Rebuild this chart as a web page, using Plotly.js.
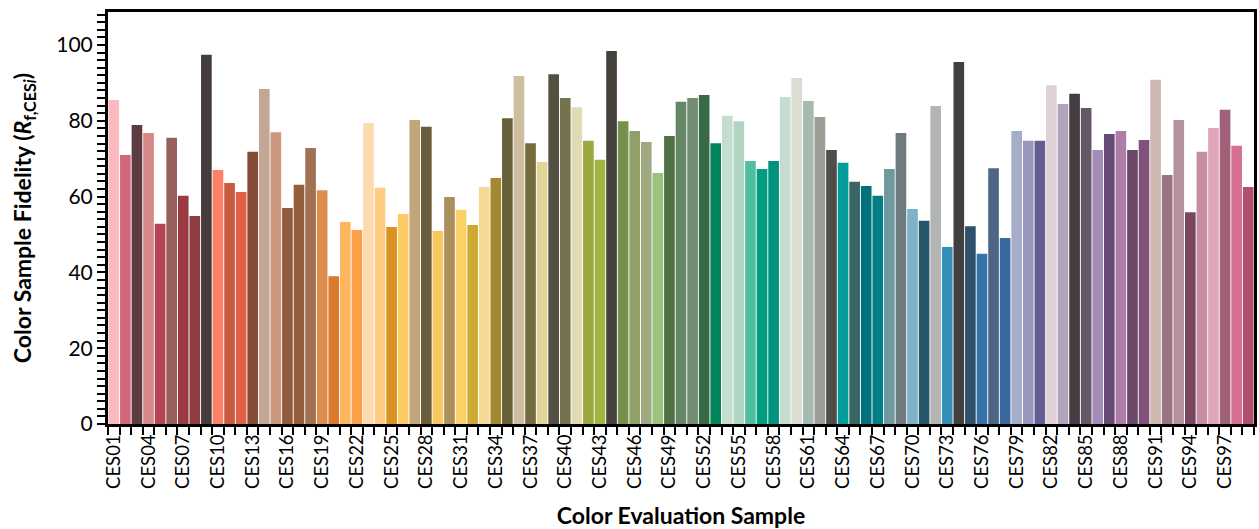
<!DOCTYPE html>
<html>
<head>
<meta charset="utf-8">
<script src="https://cdn.plot.ly/plotly-3.0.1.min.js"></script>
<style>html,body{margin:0;padding:0;background:#fff;}#chart{width:1259px;height:529px;}</style>
</head>
<body>
<div id="chart"></div>
<script>
var categories = ["CES01","CES02","CES03","CES04","CES05","CES06","CES07","CES08","CES09","CES10",
"CES11","CES12","CES13","CES14","CES15","CES16","CES17","CES18","CES19","CES20",
"CES21","CES22","CES23","CES24","CES25","CES26","CES27","CES28","CES29","CES30",
"CES31","CES32","CES33","CES34","CES35","CES36","CES37","CES38","CES39","CES40",
"CES41","CES42","CES43","CES44","CES45","CES46","CES47","CES48","CES49","CES50",
"CES51","CES52","CES53","CES54","CES55","CES56","CES57","CES58","CES59","CES60",
"CES61","CES62","CES63","CES64","CES65","CES66","CES67","CES68","CES69","CES70",
"CES71","CES72","CES73","CES74","CES75","CES76","CES77","CES78","CES79","CES80",
"CES81","CES82","CES83","CES84","CES85","CES86","CES87","CES88","CES89","CES90",
"CES91","CES92","CES93","CES94","CES95","CES96","CES97","CES98","CES99"];

var fidelity = [85.5,71.0,78.9,76.8,52.8,75.5,60.2,54.9,97.4,67.0,
63.6,61.2,71.8,88.4,77.0,57.0,63.1,72.8,61.7,39.0,
53.3,51.2,79.4,62.3,52.0,55.4,80.2,78.4,50.9,59.9,
56.5,52.5,62.5,64.9,80.7,91.8,74.1,69.1,92.3,86.0,
83.6,74.7,69.7,98.4,79.9,77.3,74.4,66.2,76.0,85.0,
86.0,86.8,74.1,81.3,79.9,69.4,67.3,69.4,86.3,91.3,
85.2,81.0,72.3,68.9,63.9,62.8,60.2,67.3,76.8,56.7,
53.6,83.9,46.7,95.5,52.2,44.9,67.5,49.1,77.3,74.7,
74.7,89.4,84.4,87.1,83.4,72.3,76.5,77.3,72.3,74.9,
90.8,65.7,80.2,55.9,71.8,78.1,82.9,73.4,62.5];

var barColors = ["#FBBABF","#D3667A","#5C3C40","#D68888","#B54554","#97605A","#9A3A42","#913D44","#443D3B","#FE8068",
"#CA5B40","#E26146","#874C37","#C4A697","#CC977F","#8F5A3D","#955E3C","#A07152","#DE8D4F","#DB7A2B",
"#FDB55F","#FCA04A","#FDDAB0","#FDCC83","#DA9222","#FDCA66","#C2A679","#6C5D3A","#F8C760","#AB8F5D",
"#FAD164","#CEAA35","#F5D894","#A38A30","#686039","#CFBD9F","#756D3F","#E3D59A","#525040","#75734F",
"#E2D9B5","#99A93C","#A0B640","#45413C","#76914C","#90A068","#A0A980","#9DC27E","#507045","#658766",
"#728D72","#386A47","#02855A","#C4DDCE","#B1D5C3","#50BFA0","#009D81","#00927C","#C3DDCF","#DCDCD1",
"#A5BBB2","#9A9C95","#4F4D4A","#009D9A","#386664","#02727A","#007F87","#6E9A9F","#6F7B7F","#7DB2CA",
"#27566B","#B3B5B4","#358EB8","#42403F","#2E506B","#3673AB","#4E6686","#3A67A0","#A5ADC8","#9798BC",
"#635D93","#DDD0D6","#B3A3BD","#433D41","#645766","#A48BB8","#664B75","#AF7EA8","#6B4868","#7F517B",
"#CEB8B1","#9A7484","#B5909D","#7B4660","#C78EA1","#E0A5B5","#A06079","#D67090","#B24E6E"];

var tickLabels = ["CES01","","","CES04","","","CES07","","","CES10","","","CES13","","","CES16","","","CES19","","",
"CES22","","","CES25","","","CES28","","","CES31","","","CES34","","","CES37","","","CES40","","",
"CES43","","","CES46","","","CES49","","","CES52","","","CES55","","","CES58","","","CES61","","",
"CES64","","","CES67","","","CES70","","","CES73","","","CES76","","","CES79","","","CES82","","",
"CES85","","","CES88","","","CES91","","","CES94","","","CES97","",""];

var yTickVals = [0,20,40,60,80,100];

var trace = {
  type: 'bar',
  x: categories,
  y: fidelity,
  marker: {color: barColors, line: {width: 0}},
  hoverinfo: 'x+y'
};

var layout = {
  width: 1259,
  height: 529,
  margin: {l: 108, r: 5, t: 12, b: 105},
  paper_bgcolor: '#ffffff',
  plot_bgcolor: '#ffffff',
  bargap: 0.08,
  showlegend: false,
  font: {family: 'Lato, "Open Sans", sans-serif', color: '#000'},
  xaxis: {
    type: 'category',
    tickvals: categories,
    ticktext: tickLabels,
    tickangle: -90,
    tickson: 'boundaries',
    ticks: 'outside',
    ticklen: 8,
    tickwidth: 2,
    tickcolor: '#000',
    tickfont: {size: 18.5, color: '#000'},
    showline: true,
    linecolor: '#000',
    linewidth: 3,
    mirror: true,
    showgrid: false,
    zeroline: false,
    title: {text: '<b>Color Evaluation Sample</b>', font: {size: 23, color: '#000'}, standoff: 24}
  },
  yaxis: {
    range: [0, 108.7],
    tickvals: yTickVals,
    ticks: 'outside',
    ticklen: 8,
    tickwidth: 2,
    tickcolor: '#000',
    tickfont: {size: 21, color: '#000'},
    minor: {dtick: 2, tick0: 0, ticks: 'outside', ticklen: 8, tickwidth: 2, tickcolor: '#000', showgrid: false},
    showline: true,
    linecolor: '#000',
    linewidth: 3,
    mirror: true,
    showgrid: false,
    zeroline: false,
    title: {text: '<b>Color Sample Fidelity (<i>R</i><sub>f,CES<i>i</i></sub>)</b>', font: {size: 23, color: '#000'}, standoff: 19}
  }
};

Plotly.newPlot('chart', [trace], layout, {staticPlot: true, displayModeBar: false});
</script>
</body>
</html>
